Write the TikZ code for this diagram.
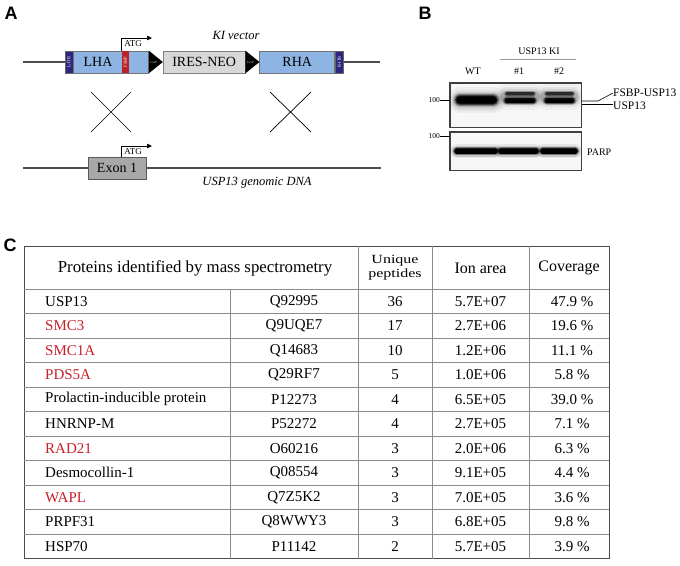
\documentclass[tikz,border=0pt]{standalone}
\usepackage{fontspec}
\setmainfont{Liberation Serif}
\newfontfamily\panelfont{Liberation Sans}
\usetikzlibrary{arrows.meta,positioning,calc}

\definecolor{armblue}{RGB}{141,180,226}
\definecolor{itrnavy}{RGB}{44,38,124}
\definecolor{fsbpred}{RGB}{185,35,40}
\definecolor{iresgray}{RGB}{216,216,216}
\definecolor{exongray}{RGB}{168,168,168}
\definecolor{hitred}{RGB}{200,32,40}

\begin{document}
\begin{tikzpicture}[x=1pt, y=-1pt,
  panel/.style={font=\panelfont\bfseries\fontsize{18}{18}\selectfont, inner sep=0pt},
  dna/.style={draw=black!70, line width=1.4pt},
  itr/.style={draw=black!60, fill=itrnavy, text=white, minimum width=8pt,
    minimum height=22pt, inner sep=0pt, line width=.5pt,
    font=\fontsize{4.5}{5}\selectfont},
  arm/.style={draw=black!55, fill=armblue, minimum width=75pt, minimum height=22pt,
    inner sep=0pt, line width=.6pt, font=\fontsize{14}{15}\selectfont},
  tagbox/.style={fill=fsbpred, text=white, minimum width=7pt, minimum height=22pt,
    inner sep=0pt, font=\fontsize{4.5}{5}\selectfont},
  cassette/.style={draw=black!50, fill=iresgray, minimum width=82pt, minimum height=22pt,
    inner sep=0pt, line width=.6pt, font=\fontsize{14}{15}\selectfont},
  exonbox/.style={draw=black!65, fill=exongray, minimum width=58pt, minimum height=22pt,
    inner sep=0pt, line width=.6pt, font=\fontsize{14}{15}\selectfont},
  loxtext/.style={text=black!20, inner sep=0pt, font=\fontsize{3.2}{3.5}\selectfont},
  tss/.style={-{Triangle[length=5pt,width=4.5pt]}, line width=.7pt},
  small/.style={inner sep=0pt, font=\fontsize{9}{10}\selectfont},
  note/.style={inner sep=0pt, font=\itshape\fontsize{12.5}{13}\selectfont},
  cross/.style={line width=.7pt},
  blot/.style={draw=black!75, fill=black!3, line width=.8pt, minimum width=131pt,
    inner sep=0pt},
  lbl/.style={inner sep=0pt, font=\fontsize{10}{11}\selectfont},
  bandlbl/.style={inner sep=0pt, font=\fontsize{11.5}{12}\selectfont},
  marker/.style={inner sep=0pt, font=\fontsize{7.5}{8}\selectfont},
  leader/.style={line width=.6pt},
  cell/.style={inner sep=0pt, font=\fontsize{15}{17}\selectfont},
  head/.style={inner sep=0pt, font=\fontsize{16}{18}\selectfont},
  tabframe/.style={draw=black!70, line width=1pt},
  tabrule/.style={draw=black!45, line width=1pt}
]
\useasboundingbox (0,0) rectangle (680,565);

% ---- A: knock-in construct
\node[panel] (pa) at (11,13) {A};
\node[note] (kivec) at (236,35) {KI vector};

\node[itr] (litr) at (69,62) {\rotatebox{90}{L-ITR}};
\node[arm, right=0pt of litr] (lha) {};
\node[tagbox] (fsbp) at (125.5,62) {\rotatebox{90}{FSBP}};
\node[cassette, right=14pt of lha] (ires) {IRES-NEO};
\node[arm, right=14pt of ires] (rha) {RHA};
\node[itr, right=0pt of rha] (ritr) {\rotatebox{90}{R-ITR}};
\node[arm, draw=none, fill=none] (lhatext) at (98,62) {LHA};

\fill (lha.north east) -- (lha.south east) -- (ires.west) -- cycle;
\fill (ires.north east) -- (ires.south east) -- (rha.west) -- cycle;
\node[loxtext] (lox1) at ($(lha.east)!.35!(ires.west)$) {LoxP};
\node[loxtext] (lox2) at ($(ires.east)!.35!(rha.west)$) {LoxP};

\coordinate (vecL) at (23,62);
\coordinate (vecR) at (380,62);
\draw[dna] (vecL) -- (litr.west);
\draw[dna] (ritr.east) -- (vecR);

\coordinate (tssA) at (152,38);
\draw[tss] (fsbp.north west) |- (tssA);
\node[small] (atgA) at (133,44) {ATG};

\draw[cross] (91,92) -- (131,132) (131,92) -- (91,132);
\draw[cross] (270,92) -- (311,132) (311,92) -- (270,132);

\node[exonbox] (exon) at (117,168) {Exon 1};
\coordinate (gdnaL) at (23,168);
\coordinate (gdnaR) at (381,168);
\draw[dna] (gdnaL) -- (exon.west);
\draw[dna] (exon.east) -- (gdnaR);
\coordinate (tssB) at (152,146);
\draw[tss] (exon.north -| fsbp.west) |- (tssB);
\node[small] (atgB) at (133,152) {ATG};
\node[note] (gdna) at (257,183) {USP13 genomic DNA};

% ---- B: western blot
\node[panel] (pb) at (425,13) {B};
\node[lbl] (ki) at (539,51) {USP13 KI};
\draw[black!40, line width=.8pt] (500,59) -- (576,59);
\node[lbl] (wt) at (473,71) {WT};
\node[lbl] (ki1) at (519,71) {\#1};
\node[lbl] (ki2) at (559,71) {\#2};

\node[blot, minimum height=44pt] (wb1) at (515.5,105) {};
\node[blot, minimum height=38pt] (wb2) at (515.5,151) {};

\begin{scope}
  \clip (wb1.north west) rectangle (wb1.south east);
  \foreach \w/\o in {26/.04,21/.05,17/.08,14/.15,12/.3,10/.5,8/.8,6/1}
    \draw[line width=\w pt, draw opacity=\o, line cap=round] (460,100) -- (493,100);
  \foreach \xa/\xb in {507/533, 547/572} {
    \foreach \w/\o in {26/.03,20/.05,16/.08,13/.15}
      \draw[line width=\w pt, draw opacity=\o, line cap=round] (\xa,97) -- (\xb,97);
    \foreach \w/\o in {6/.2,4/.4,3/.5}
      \draw[line width=\w pt, draw opacity=\o, line cap=round] (\xa,93.5) -- (\xb,93.5);
    \foreach \w/\o in {9/.2,7/.4,5/.8,4/1}
      \draw[line width=\w pt, draw opacity=\o, line cap=round] (\xa,100.5) -- (\xb,100.5);
  }
\end{scope}
\begin{scope}
  \clip (wb2.north west) rectangle (wb2.south east);
  \foreach \xa/\xb in {457/495, 501/536, 543/575} {
    \foreach \w/\o in {14/.06,11/.15,8/.4,6/.8,5/1}
      \draw[line width=\w pt, draw opacity=\o, line cap=round] (\xa,151) -- (\xb,151);
  }
\end{scope}
\draw[draw=black!75, line width=.8pt] (wb1.north west) rectangle (wb1.south east);
\draw[draw=black!75, line width=.8pt] (wb2.north west) rectangle (wb2.south east);

\node[marker, anchor=east] (m1) at (440,100) {100};
\draw[leader] (m1.east) -- (wb1.west |- m1.east);
\node[marker, anchor=east] (m2) at (440,136) {100};
\draw[leader] (m2.east) -- (wb2.west |- m2.east);

\node[bandlbl, anchor=west] (fsbpusp) at (613,93) {FSBP-USP13};
\node[bandlbl, anchor=west] (usp) at (613,106) {USP13};
\node[lbl, anchor=west] (parp) at (587,152) {PARP};
\coordinate (bandtop) at (582,101);
\coordinate (bandbot) at (582,104);
\draw[leader] (bandtop) -- (598,101) -- (fsbpusp.west);
\draw[leader] (bandbot) -- (bandbot -| usp.west);

% ---- C: mass spectrometry table
\node[panel] (pc) at (10,245) {C};
\draw[tabframe] (24,246) rectangle (609,558.5);
\draw[tabrule] (24,289) -- (609,289);
\foreach \k in {1,...,10}
  \draw[tabrule] (24,{289+24.5*\k}) -- (609,{289+24.5*\k});
\draw[tabrule] (230,289) -- (230,558.5);
\foreach \cx in {358,432,529}
  \draw[tabrule] (\cx,246) -- (\cx,558.5);

\node[head, font=\fontsize{16.8}{18}\selectfont] (hprot) at (195,268) {Proteins identified by mass spectrometry};
\node[head] (hpep) at (395,267.5) {\scalebox{1}[.78]{\shortstack{Unique\\peptides}}};
\node[head] (hion) at (480.5,268) {Ion area};
\node[head] (hcov) at (569,268) {Coverage};

\foreach \n/\prot/\acc/\pep/\ion/\cov/\col in {
    0/USP13/Q92995/36/5.7E+07/47.9/black,
    1/SMC3/Q9UQE7/17/2.7E+06/19.6/hitred,
    2/SMC1A/Q14683/10/1.2E+06/11.1/hitred,
    3/PDS5A/Q29RF7/5/1.0E+06/5.8/hitred,
    4/Prolactin-inducible protein/P12273/4/6.5E+05/39.0/black,
    5/HNRNP-M/P52272/4/2.7E+05/7.1/black,
    6/RAD21/O60216/3/2.0E+06/6.3/hitred,
    7/Desmocollin-1/Q08554/3/9.1E+05/4.4/black,
    8/WAPL/Q7Z5K2/3/7.0E+05/3.6/hitred,
    9/PRPF31/Q8WWY3/3/6.8E+05/9.8/black,
    10/HSP70/P11142/2/5.7E+05/3.9/black} {
  \node[cell, anchor=west, text=\col] (prot\n) at (45,{301.25+24.5*\n}) {\prot};
  \node[cell] (acc\n) at (294,{301.25+24.5*\n}) {\acc};
  \node[cell] (pep\n) at (395,{301.25+24.5*\n}) {\pep};
  \node[cell] (ion\n) at (480.5,{301.25+24.5*\n}) {\ion};
  \node[cell] (cov\n) at (572,{301.25+24.5*\n}) {\cov\ \%};
}
\end{tikzpicture}
\end{document}
